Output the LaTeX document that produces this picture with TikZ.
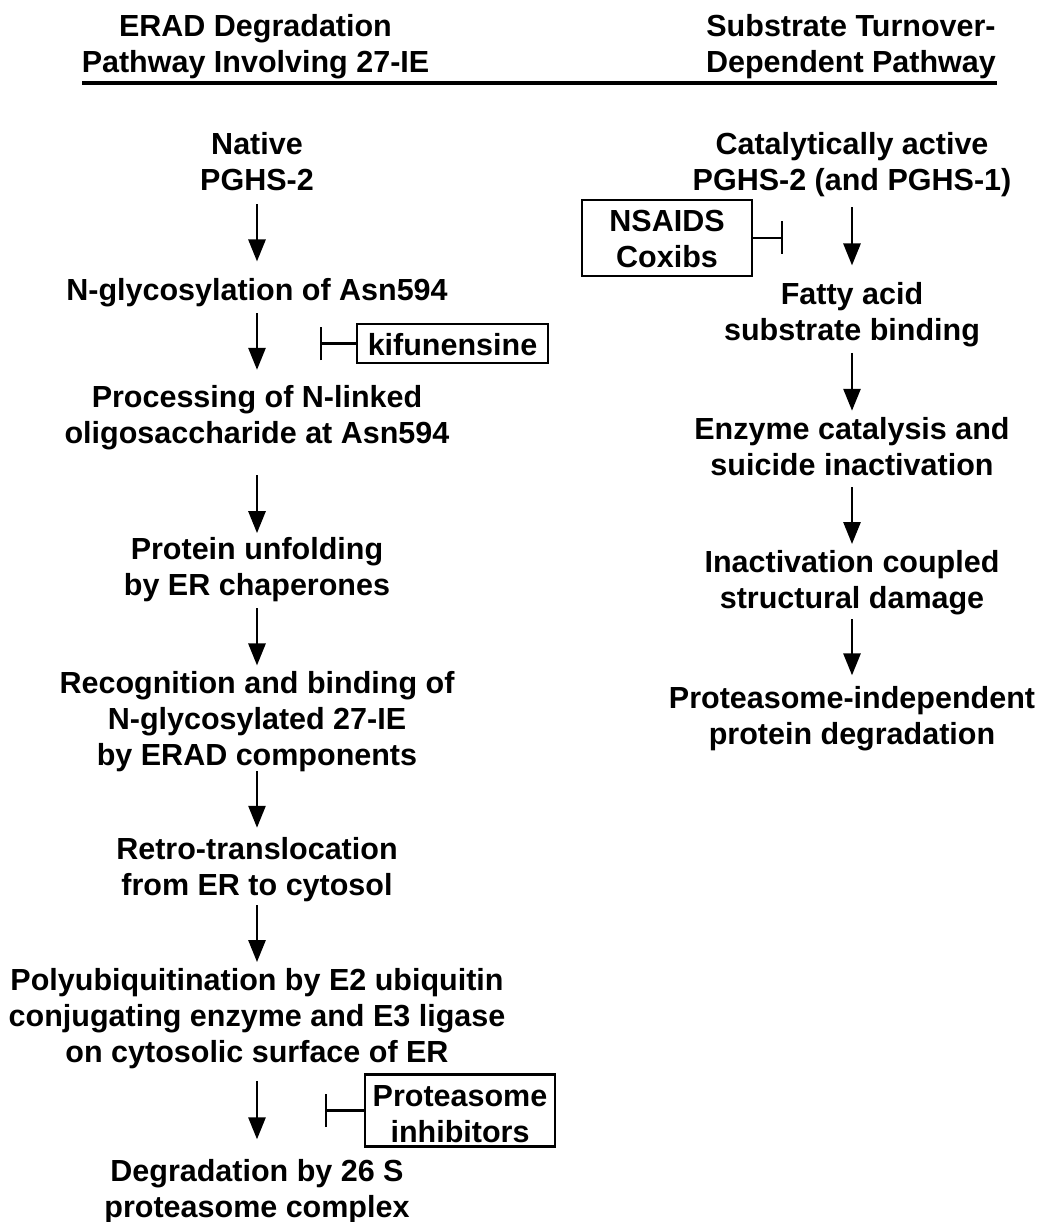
\documentclass[tikz,border=0pt]{standalone}
\usepackage{fontspec}
\setmainfont{Liberation Sans}
\usetikzlibrary{arrows.meta, positioning}
\newcommand{\stagefont}{\fontsize{30.5}{36}\selectfont\bfseries}
% lowers a line of text inside a box without changing its size
\newcommand{\low}[2][5pt]{\raisebox{-#1}[0pt][0pt]{#2}}
\tikzset{
  stage/.style={align=center, font=\stagefont, inner sep=0pt,
    execute at end node=\strut},
  blockbox/.style={stage, draw, line width=2.8pt},
  flow/.style={line width=2.8pt, -{Triangle[length=22pt,width=17pt]}},
  blocks/.style={line width=2.8pt, -{Bar[width=33pt]}},
}

\begin{document}
\begin{tikzpicture}[x=1pt, y=1pt]
    \useasboundingbox (0,0) rectangle (1047,-1222);

    % Headings
    \node[stage] (eradhead) at (255.5,-49) {ERAD Degradation\\Pathway Involving 27-IE};
    \node[stage] (turnhead) at (851,-49) {Substrate Turnover-\\Dependent Pathway};
    \coordinate (ruleW) at (82,-83);
    \coordinate (ruleE) at (997,-83);
    \draw[line width=4.5pt] (ruleW) -- (ruleE);

    % ERAD pathway
    \node[stage] (native) at (257,-166.8) {Native\\PGHS-2};
    \node[stage, below=74pt of native] (nglyc) {N-glycosylation of Asn594};
    \node[stage, below=73.5pt of nglyc] (process) {Processing of N-linked\\oligosaccharide at Asn594};
    \node[stage, below=83pt of process] (unfold) {Protein unfolding\\by ER chaperones};
    \node[stage, below=64pt of unfold] (recog) {Recognition and binding of\\N-glycosylated 27-IE\\by ERAD components};
    \node[stage, below=60.5pt of recog] (retro) {Retro-translocation\\from ER to cytosol};
    \node[stage, below=62pt of retro] (polyub) {Polyubiquitination by E2 ubiquitin\\conjugating enzyme and E3 ligase\\on cytosolic surface of ER};
    \node[stage, below=85.5pt of polyub] (degrade) {Degradation by 26 S\\proteasome complex};

    % Turnover pathway
    \node[stage] (active) at (852,-166.8) {Catalytically active\\PGHS-2 (and PGHS-1)};
    \node[stage, below=81pt of active] (fatty) {Fatty acid\\substrate binding};
    \node[stage, below=65pt of fatty] (catalysis) {Enzyme catalysis and\\suicide inactivation};
    \node[stage, below=64pt of catalysis] (damage) {Inactivation coupled\\structural damage};
    \node[stage, below=67pt of damage] (indep) {Proteasome-independent\\protein degradation};

    % Inhibitors
    \node[blockbox, minimum width=191pt, minimum height=39pt] (kifu) at (452.5,-343.5) {\strut\low{kifunensine}};
    \node[blockbox, minimum width=190pt, minimum height=71pt] (protinh) at (460,-1110.5) {\strut\low[7pt]{Proteasome}\\\low[7pt]{inhibitors}};
    \node[blockbox, minimum width=170pt, minimum height=76pt] (nsaid) at (667,-238) {\strut\low[4pt]{NSAIDS}\\\low[4pt]{Coxibs}};
    \coordinate[left=36pt of kifu.west] (kifubar);
    \coordinate[left=39pt of protinh.west] (protbar);
    \coordinate[right=30pt of nsaid.east] (nsaidbar);

    % Connect the nodes
    \draw[flow, shorten <=3pt, shorten >=14pt] (native.south) -- (nglyc.north);
    \draw[flow, shorten <=1.5pt, shorten >=15.5pt] (nglyc.south) -- (process.north);
    \draw[flow, shorten <=20.5pt, shorten >=4.5pt] (process.south) -- (unfold.north);
    \draw[flow, shorten <=1.5pt, shorten >=5.5pt] (unfold.south) -- (recog.north);
    \draw[flow, shorten <=-5pt, shorten >=9pt] (recog.south) -- (retro.north);
    \draw[flow, shorten <=-1pt, shorten >=6pt] (retro.south) -- (polyub.north);
    \draw[flow, shorten <=7.5pt, shorten >=19.5pt] (polyub.south) -- (degrade.north);
    \draw[flow, shorten <=6pt, shorten >=17pt] (active.south) -- (fatty.north);
    \draw[flow, shorten <=1pt, shorten >=6pt] (fatty.south) -- (catalysis.north);
    \draw[flow, shorten <=1pt, shorten >=6pt] (catalysis.south) -- (damage.north);
    \draw[flow, shorten >=11pt] (damage.south) -- (indep.north);
    \draw[blocks] (kifu.west) -- (kifubar);
    \draw[blocks] (protinh.west) -- (protbar);
    \draw[blocks] (nsaid.east) -- (nsaidbar);
\end{tikzpicture}
\end{document}
